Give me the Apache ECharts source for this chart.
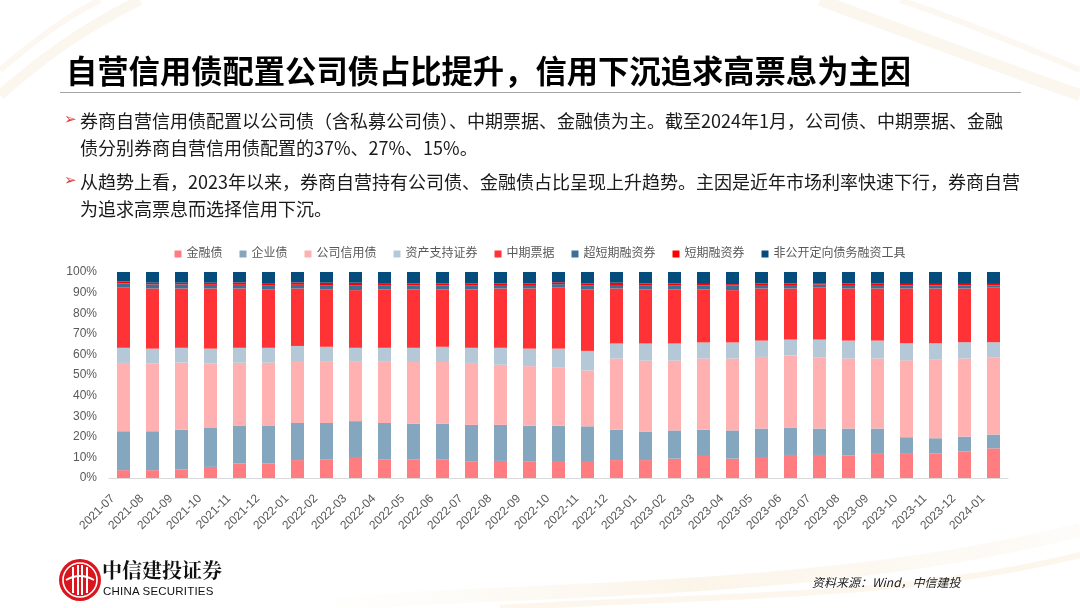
<!DOCTYPE html>
<html>
<head>
<meta charset="utf-8">
<script src="https://cdn.jsdelivr.net/npm/echarts@6/dist/echarts.min.js"></script>
<style>
  html, body { margin:0; padding:0; width:1080px; height:608px; overflow:hidden; background:#fff; }
  #wrap { position:relative; width:1080px; height:608px; }
  #deco { position:absolute; left:0; top:0; width:1080px; height:608px; }
  #chart { position:absolute; left:0; top:0; width:1080px; height:608px; }
  .t { position:absolute; white-space:nowrap; font-family:"Noto Sans CJK SC", "Liberation Sans", sans-serif; }
  #title { left:66px; top:49px; font-size:31.3px; font-weight:bold; color:#000; line-height:42px; letter-spacing:0px; }
  #rule { position:absolute; left:60px; top:92px; width:961px; height:1px; background:#A6A6A6; }
  .b { font-size:18px; color:#1a1a1a; line-height:27px; }
  .arrow { position:absolute; font-family:"DejaVu Sans", sans-serif; font-size:15px; color:#E03A3A; }
  #src { left:812px; top:573px; font-size:12px; font-style:italic; color:#222; }
  #logo1 { left:102px; top:557px; font-size:20px; font-weight:bold; color:#111; font-family:"Noto Serif CJK SC","Noto Sans CJK SC",serif; line-height:26px; }
  #logo2 { left:103px; top:584px; font-size:11.5px; color:#111; font-family:"Liberation Sans", sans-serif; line-height:14px; letter-spacing:0.2px; }
</style>
</head>
<body>
<div id="wrap">
  <svg id="deco" width="1080" height="608" xmlns="http://www.w3.org/2000/svg">
    <defs>
      <linearGradient id="g1" x1="0" y1="0" x2="1" y2="0">
        <stop offset="0" stop-color="#F6E7CF" stop-opacity="0"/>
        <stop offset="0.5" stop-color="#F3DDB8" stop-opacity="0.7"/>
        <stop offset="1" stop-color="#F6E7CF" stop-opacity="0.3"/>
      </linearGradient>
    </defs>
    <path d="M0,95 C40,60 80,30 140,0" stroke="#F2E2C6" stroke-width="10" fill="none" opacity="0.3"/>
    <path d="M0,70 C30,45 60,20 100,0" stroke="#F4E6CE" stroke-width="6" fill="none" opacity="0.3"/>
    <path d="M820,0 C900,30 980,60 1080,95" stroke="#F2E2C6" stroke-width="12" fill="none" opacity="0.3"/>
    <path d="M900,0 C960,20 1020,45 1080,70" stroke="#F4E6CE" stroke-width="6" fill="none" opacity="0.3"/>
    <path d="M300,608 C500,585 800,600 1080,530" stroke="url(#g1)" stroke-width="14" fill="none" opacity="0.45"/>
    <path d="M500,608 C700,595 900,600 1080,555" stroke="#F3DDB8" stroke-width="6" fill="none" opacity="0.25"/>
    <!-- logo -->
    <circle cx="80" cy="580" r="21" fill="#D9161E"/>
    <circle cx="80" cy="580" r="17" fill="none" stroke="#fff" stroke-width="1.6"/>
    <rect x="72" y="567" width="2" height="26" fill="#fff"/>
    <rect x="77" y="565" width="2" height="30" fill="#fff"/>
    <rect x="81" y="565" width="2" height="30" fill="#fff"/>
    <rect x="86" y="567" width="2" height="26" fill="#fff"/>
    <path d="M66,580 Q80,572 94,580" stroke="#fff" stroke-width="1.8" fill="none"/>
  </svg>
  <div id="chart"></div>
  <div class="t" id="title">自营信用债配置公司债占比提升，信用下沉追求高票息为主因</div>
  <div id="rule"></div>
  <div class="arrow" style="left:64px;top:110px;">➢</div>
  <div class="t b" style="left:80px;top:107px;">券商自营信用债配置以公司债（含私募公司债）、中期票据、金融债为主。截至2024年1月，公司债、中期票据、金融</div>
  <div class="t b" style="left:80px;top:134px;">债分别券商自营信用债配置的37%、27%、15%。</div>
  <div class="arrow" style="left:64px;top:171px;">➢</div>
  <div class="t b" style="left:80px;top:168px;">从趋势上看，2023年以来，券商自营持有公司债、金融债占比呈现上升趋势。主因是近年市场利率快速下行，券商自营</div>
  <div class="t b" style="left:80px;top:195px;">为追求高票息而选择信用下沉。</div>
  <div class="t" id="logo1">中信建投证券</div>
  <div class="t" id="logo2">CHINA SECURITIES</div>
  <div class="t" id="src">资料来源：Wind，中信建投</div>
</div>
<script>
// ---- data (percent of self-operated credit bond holdings) ----
var categories = ['2021-07','2021-08','2021-09','2021-10','2021-11','2021-12',
  '2022-01','2022-02','2022-03','2022-04','2022-05','2022-06','2022-07','2022-08','2022-09','2022-10','2022-11','2022-12',
  '2023-01','2023-02','2023-03','2023-04','2023-05','2023-06','2023-07','2023-08','2023-09','2023-10','2023-11','2023-12',
  '2024-01'];
var seriesNames = ['金融债','企业债','公司信用债','资产支持证券','中期票据','超短期融资券','短期融资券','非公开定向债务融资工具'];
var financialBonds = [3.8,3.8,4.2,5.4,7.0,7.0,8.7,9.1,10.2,9.1,9.1,9.1,7.9,8.3,7.9,7.8,7.8,8.7,8.7,9.4,10.7,9.4,10.2,11.2,11.2,10.9,11.7,11.7,12.0,12.8,14.4];
var enterpriseBonds = [18.9,18.9,19.3,18.9,18.5,18.5,18.0,17.6,17.4,17.6,17.2,17.2,17.9,17.5,17.5,17.6,17.3,14.7,13.8,13.7,12.7,13.7,13.8,13.3,12.8,13.1,12.3,8.1,7.3,7.3,6.7];
var corporateBonds = [33.2,32.8,32.5,31.2,30.5,30.5,30.1,29.7,28.8,29.7,30.0,30.0,30.1,29.2,28.9,28.4,27.1,34.6,34.5,33.9,34.6,34.9,34.8,34.9,34.6,34.0,34.0,37.3,38.3,37.9,37.5];
var absBonds = [7.3,7.3,7.2,7.3,7.2,7.2,7.3,7.3,6.8,6.8,6.9,7.4,7.3,8.2,8.5,9.0,9.5,7.3,8.3,8.3,7.8,7.8,7.9,7.8,8.6,8.7,8.7,8.3,7.8,7.9,7.3];
var mtnNotes = [29.4,29.2,28.8,29.2,28.8,28.4,27.9,27.9,28.0,28.3,28.3,27.8,28.3,28.8,29.2,29.8,29.8,26.7,26.2,26.2,25.8,25.4,25.3,24.8,25.4,25.3,25.3,26.6,26.6,26.1,26.7];
var scpNotes = [1.9,2.0,2.0,1.8,1.8,2.0,1.8,2.0,2.4,2.1,2.0,2.0,2.1,1.7,1.7,1.5,1.9,1.7,2.1,2.1,1.8,2.2,1.7,1.7,1.3,1.7,1.7,1.5,1.5,1.5,0.9];
var cpNotes = [0.9,0.8,0.8,1.0,1.1,1.0,1.1,1.2,1.2,1.0,1.0,0.9,0.8,0.7,0.7,0.9,1.0,1.1,0.9,0.9,0.8,0.7,0.8,0.8,0.7,0.8,0.8,0.7,0.7,0.7,0.7];
var ppnNotes = [4.6,5.2,5.2,5.2,5.1,5.4,5.1,5.2,5.2,5.4,5.5,5.6,5.6,5.6,5.6,5.0,5.6,5.2,5.5,5.5,5.8,5.9,5.5,5.5,5.4,5.5,5.5,5.8,5.8,5.8,5.8];
var yTicks = [0,10,20,30,40,50,60,70,80,90,100];

var seriesData = [financialBonds, enterpriseBonds, corporateBonds, absBonds, mtnNotes, scpNotes, cpNotes, ppnNotes];
var colors = ['#FF7C80','#84A6BE','#FFB0B1','#B4C8D7','#FF3335','#3F6F96','#FF0000','#044C7C'];

var chart = echarts.init(document.getElementById('chart'), null, {renderer:'canvas'});
var FONT = '"Liberation Sans", "Noto Sans CJK SC", sans-serif';
var option = {
  animation: false,
  textStyle: { fontFamily: FONT },
  color: colors,
  legend: {
    top: 243, left: 'center',
    icon: 'rect', itemWidth: 7, itemHeight: 7, itemGap: 17,
    textStyle: { fontSize: 12, color: '#595959', fontFamily: FONT },
    data: seriesNames
  },
  grid: { left: 109, right: 72, top: 272, bottom: 130, containLabel: false },
  xAxis: {
    type: 'category', data: categories,
    axisLine: { lineStyle: { color: '#D9D9D9' } },
    axisTick: { lineStyle: { color: '#D9D9D9' }, length: 4 },
    axisLabel: { rotate: 45, fontSize: 12, color: '#595959', margin: 8, interval: 0, fontFamily: FONT,
      padding: [0, 15, 0, 0] }
  },
  yAxis: {
    type: 'value', min: 0, max: 100, interval: 10,
    axisLine: { show: false }, axisTick: { show: false }, splitLine: { show: false },
    axisLabel: { formatter: function(v){ return v + '%'; }, fontSize: 12, color: '#595959', margin: 12, fontFamily: FONT,
      customValues: yTicks }
  },
  series: seriesNames.map(function(n, i){
    return { name: n, type: 'bar', stack: 'total', barWidth: 13, data: seriesData[i],
      itemStyle: { color: colors[i] } };
  })
};
chart.setOption(option);
</script>
</body>
</html>
